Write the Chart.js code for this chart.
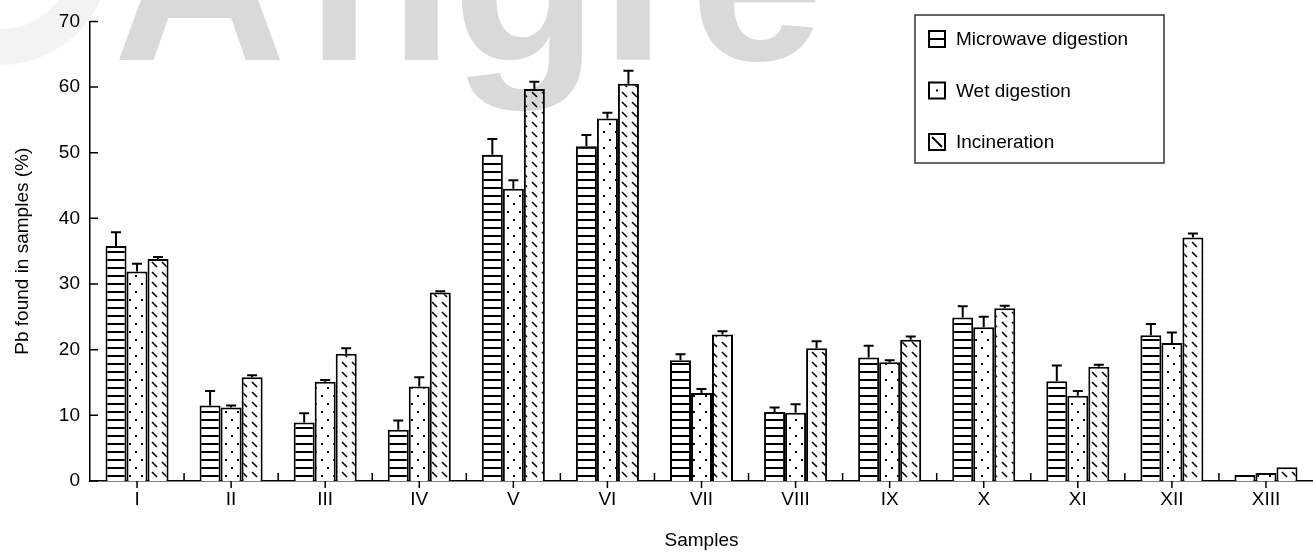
<!DOCTYPE html>
<html>
<head>
<meta charset="utf-8">
<script src="https://cdn.jsdelivr.net/npm/chart.js@4"></script>
<style>
  html, body { margin: 0; padding: 0; background: #fff; }
  #wrap { width: 1313px; height: 559px; }
</style>
</head>
<body>
<div id="wrap"><canvas id="pbChart" width="1313" height="559"></canvas></div>
<script>
// values
const categories = ['I', 'II', 'III', 'IV', 'V', 'VI', 'VII', 'VIII', 'IX', 'X', 'XI', 'XII', 'XIII'];
const seriesNames = ['Microwave digestion', 'Wet digestion', 'Incineration'];
const microwave = [35.8, 11.5, 8.9, 7.8, 49.7, 51.0, 18.4, 10.5, 18.8, 24.9, 15.2, 22.2, 0.9];
const microwaveErr = [2.1, 2.2, 1.4, 1.4, 2.4, 1.7, 0.9, 0.7, 1.8, 1.7, 2.4, 1.7, 0];
const wet = [31.9, 11.2, 15.1, 14.4, 44.5, 55.2, 13.4, 10.4, 18.1, 23.4, 13.0, 21.0, 1.2];
const wetErr = [1.2, 0.3, 0.3, 1.4, 1.3, 0.9, 0.6, 1.3, 0.3, 1.6, 0.7, 1.6, 0];
const incineration = [33.8, 15.8, 19.4, 28.7, 59.7, 60.5, 22.3, 20.2, 21.5, 26.3, 17.4, 37.1, 2.1];
const incinerationErr = [0.3, 0.3, 0.8, 0.2, 1.1, 2.0, 0.5, 1.1, 0.5, 0.4, 0.3, 0.6, 0];
const yTicks = [0, 10, 20, 30, 40, 50, 60, 70];

const FONT = '"Liberation Sans", Arial, sans-serif';

// fill patterns
function makePattern(w, h, paint) {
    const c = document.createElement('canvas');
    c.width = w;
    c.height = h;
    const g = c.getContext('2d');
    g.fillStyle = '#fff';
    g.fillRect(0, 0, w, h);
    g.fillStyle = '#000';
    g.strokeStyle = '#000';
    paint(g);
    return g.createPattern(c, 'repeat');
}
const ctx = document.getElementById('pbChart').getContext('2d');
const stripes = makePattern(8, 8, g => g.fillRect(0, 3, 8, 2));
const dots = makePattern(12, 16, g => { g.fillRect(3, 3, 2, 2); g.fillRect(9, 11, 2, 2); });
const hatch = makePattern(10, 10, g => {
    g.lineWidth = 1.6;
    g.beginPath();
    g.moveTo(2, 2);
    g.lineTo(7, 7);
    g.stroke();
});
const fills = [stripes, dots, hatch];
const errs = [microwaveErr, wetErr, incinerationErr];

// upper error bars
const errorBars = {
    id: 'errorBars',
    afterDatasetsDraw(chart) {
        const c = chart.ctx;
        const y = chart.scales.y;
        c.save();
        c.strokeStyle = '#000';
        c.lineWidth = 2;
        chart.data.datasets.forEach((ds, d) => {
            const meta = chart.getDatasetMeta(d);
            meta.data.forEach((bar, i) => {
                const e = errs[d][i];
                if (!e) return;
                const top = y.getPixelForValue(ds.data[i] + e);
                c.beginPath();
                c.moveTo(bar.x, bar.y);
                c.lineTo(bar.x, top);
                c.moveTo(bar.x - 5, top);
                c.lineTo(bar.x + 5, top);
                c.stroke();
            });
        });
        c.restore();
    }
};

// inside/outside tick marks like the original figure
const tickMarks = {
    id: 'tickMarks',
    afterDraw(chart) {
        const c = chart.ctx;
        const {x, y} = chart.scales;
        const area = chart.chartArea;
        c.save();
        c.strokeStyle = '#000';
        c.lineWidth = 1.5;
        c.beginPath();
        y.ticks.forEach(t => {
            const py = y.getPixelForValue(t.value);
            c.moveTo(area.left, py);
            c.lineTo(area.left + 8, py);
        });
        const half = (x.getPixelForValue(1) - x.getPixelForValue(0)) / 2;
        categories.forEach((cat, i) => {
            const px = x.getPixelForValue(i);
            c.moveTo(px, area.bottom);
            c.lineTo(px, area.bottom + 7);
            if (i > 0) {
                c.moveTo(px - half, area.bottom);
                c.lineTo(px - half, area.bottom - 8);
            }
        });
        c.stroke();
        c.restore();
    }
};

// boxed legend at the top right
const boxLegend = {
    id: 'boxLegend',
    afterDraw(chart) {
        const c = chart.ctx;
        c.save();
        c.strokeStyle = '#333';
        c.lineWidth = 1.5;
        c.strokeRect(915, 15, 249, 148);
        c.font = '19px ' + FONT;
        c.textBaseline = 'middle';
        chart.data.datasets.forEach((ds, i) => {
            const cy = 39 + i * 51.5;
            const ix = 929, iy = cy - 8, s = 16;
            c.fillStyle = '#fff';
            c.fillRect(ix, iy, s, s);
            c.lineWidth = 2;
            c.strokeStyle = '#000';
            c.strokeRect(ix, iy, s, s);
            c.beginPath();
            if (i === 0) {
                c.moveTo(ix, cy); c.lineTo(ix + s, cy);
                c.stroke();
            } else if (i === 1) {
                c.fillStyle = '#000';
                c.fillRect(ix + s / 2 - 1, cy - 1, 2, 2);
            } else {
                c.moveTo(ix + 3, iy + 3); c.lineTo(ix + s - 3, iy + s - 3);
                c.stroke();
            }
            c.fillStyle = '#000';
            c.fillText(ds.label, 956, cy + 1);
        });
        c.restore();
    }
};

// faint watermark across the top
const watermark = {
    id: 'watermark',
    afterDraw(chart) {
        const c = chart.ctx;
        c.save();
        c.globalCompositeOperation = 'multiply';
        c.strokeStyle = '#f3f3f3';
        c.lineWidth = 36;
        c.beginPath();
        c.arc(0, -45, 92, 0, Math.PI);
        c.stroke();
        c.fillStyle = '#d9d9d9';
        c.font = 'bold 240px ' + FONT;
        c.textBaseline = 'alphabetic';
        const letters = [['A', 113], ['n', 306], ['g', 452], ['l', 600], ['e', 690]];
        letters.forEach(([ch, lx]) => c.fillText(ch, lx, 60));
        c.restore();
    }
};

new Chart(ctx, {
    type: 'bar',
    data: {
        labels: categories,
        datasets: seriesNames.map((name, i) => ({
            label: name,
            data: [microwave, wet, incineration][i],
            backgroundColor: fills[i],
            borderColor: '#000',
            borderWidth: 2,
            barPercentage: 1,
            categoryPercentage: 0.67
        }))
    },
    options: {
        responsive: false,
        animation: false,
        devicePixelRatio: 1,
        layout: { padding: { top: 21, right: 0, bottom: 0, left: 0 } },
        plugins: {
            legend: { display: false },
            tooltip: { enabled: false }
        },
        scales: {
            x: {
                grid: { display: false, drawTicks: false },
                border: { display: true, color: '#000', width: 1.5 },
                ticks: { color: '#000', font: { family: FONT, size: 19 }, padding: 7 },
                title: {
                    display: true,
                    text: 'Samples',
                    color: '#000',
                    font: { family: FONT, size: 19, lineHeight: 1.2 },
                    padding: { top: 0, bottom: 7 }
                },
                afterFit(scale) { scale.height = 78; }
            },
            y: {
                min: 0,
                max: 70,
                afterBuildTicks(scale) { scale.ticks = yTicks.map(v => ({ value: v })); },
                grid: { display: false, drawTicks: false },
                border: { display: true, color: '#000', width: 1.5 },
                ticks: { color: '#000', font: { family: FONT, size: 19 }, padding: 10 },
                title: {
                    display: true,
                    text: 'Pb found in samples (%)',
                    color: '#000',
                    font: { family: FONT, size: 19, lineHeight: 1.2 },
                    padding: { top: 11, bottom: 0 }
                },
                afterFit(scale) { scale.width = 90; }
            }
        }
    },
    plugins: [errorBars, tickMarks, boxLegend, watermark]
});
</script>
</body>
</html>
